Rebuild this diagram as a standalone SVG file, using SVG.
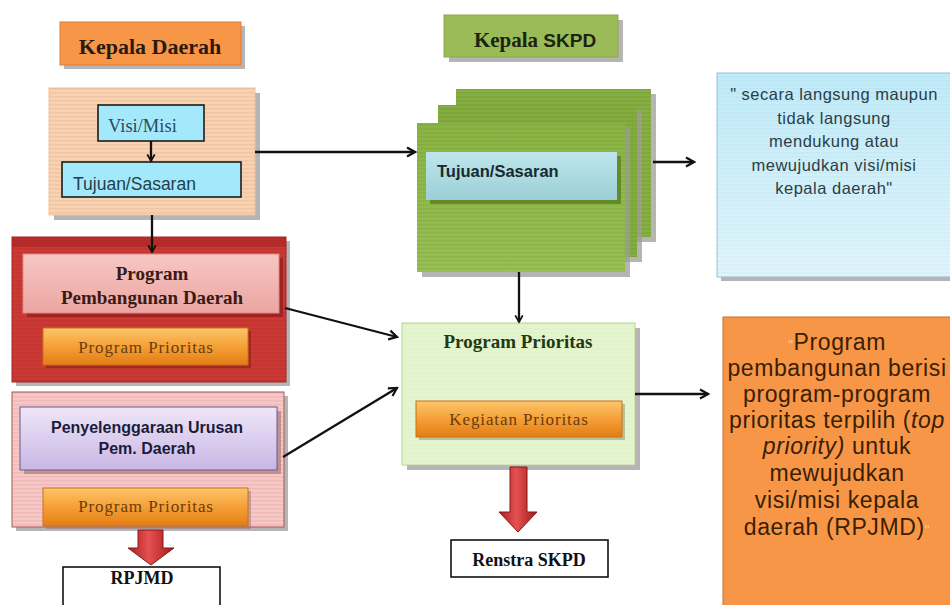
<svg xmlns="http://www.w3.org/2000/svg" width="950" height="605" viewBox="0 0 950 605">
<style>
.serif{font-family:"Liberation Serif","Times New Roman",serif}
.sans{font-family:"Liberation Sans",Arial,sans-serif}
.b{font-weight:bold}
.c{text-anchor:middle}
.shadow{fill:#9c9c9c;opacity:0.75}
.conn{stroke:#111;stroke-width:2.3;fill:none}
.btn{fill:url(#gOrange);stroke:#c8731a;stroke-width:1}
.btntext{font-size:17px;fill:#6b3c0c;letter-spacing:0.9px}
.outline{fill:#fff;stroke:#111;stroke-width:1.6}
</style>
<defs>
<pattern id="stripes" width="6" height="4" patternUnits="userSpaceOnUse">
<rect x="0" y="0" width="6" height="1.5" fill="#000" opacity="0.05"/>
</pattern>
<pattern id="stripesL" width="6" height="4" patternUnits="userSpaceOnUse">
<rect x="0" y="0" width="6" height="1.5" fill="#fff" opacity="0.25"/>
</pattern>
<linearGradient id="gOrange" x1="0" y1="0" x2="0" y2="1">
<stop offset="0" stop-color="#fcc56a"/>
<stop offset="0.5" stop-color="#f5a037"/>
<stop offset="1" stop-color="#e27d14"/>
</linearGradient>
<linearGradient id="gPinkIn" x1="0" y1="0" x2="0" y2="1">
<stop offset="0" stop-color="#f7c8c4"/>
<stop offset="1" stop-color="#eba5a1"/>
</linearGradient>
<linearGradient id="gPurple" x1="0" y1="0" x2="0" y2="1">
<stop offset="0" stop-color="#eee6f8"/>
<stop offset="1" stop-color="#c9b6e4"/>
</linearGradient>
<linearGradient id="gRedArrow" x1="0" y1="0" x2="1" y2="0">
<stop offset="0" stop-color="#a81f1f"/>
<stop offset="0.45" stop-color="#e65050"/>
<stop offset="1" stop-color="#a01a1a"/>
</linearGradient>
<linearGradient id="gTeal" x1="0" y1="0" x2="0" y2="1">
<stop offset="0" stop-color="#bde6ec"/>
<stop offset="1" stop-color="#9ccfd6"/>
</linearGradient>
<linearGradient id="gCyan" x1="0" y1="0" x2="0" y2="1">
<stop offset="0" stop-color="#bfebf9"/>
<stop offset="1" stop-color="#e0f5fc"/>
</linearGradient>
<linearGradient id="gGreen" x1="0" y1="0" x2="0" y2="1">
<stop offset="0" stop-color="#89b443"/>
<stop offset="1" stop-color="#96c052"/>
</linearGradient>
<marker id="chev" viewBox="0 0 12 12" refX="10" refY="6" markerWidth="12" markerHeight="12" markerUnits="userSpaceOnUse" orient="auto">
<path d="M2,1.5 L10,6 L2,10.5" fill="none" stroke="#111" stroke-width="2.2"/>
</marker>
<marker id="chevS" viewBox="0 0 12 12" refX="10" refY="6" markerWidth="10" markerHeight="10" markerUnits="userSpaceOnUse" orient="auto">
<path d="M2,1.5 L10,6 L2,10.5" fill="none" stroke="#111" stroke-width="2.2"/>
</marker>
</defs>

<rect width="950" height="605" fill="#fff"/>

<g id="hdr-kepala-daerah">
<rect class="shadow" x="64" y="26" width="181" height="43"/>
<rect x="60" y="22" width="181" height="43" fill="#f79646" stroke="#e07c36"/>
<text class="serif b c" x="150" y="54" font-size="22" fill="#2a1a10">Kepala Daerah</text>
</g>

<g id="box-visi">
<rect class="shadow" x="54" y="93" width="206" height="127"/>
<rect x="49" y="88" width="206" height="127" fill="#fad2b0" stroke="#f0c49c"/>
<rect x="49" y="88" width="206" height="127" fill="url(#stripes)"/>
<rect x="98" y="105" width="106" height="36" fill="#a3e9fb" stroke="#111" stroke-width="1.5"/>
<text class="serif" x="108" y="132" font-size="18.5" fill="#2b4a5a">Visi/Misi</text>
<rect x="62" y="162" width="179" height="35" fill="#a3e9fb" stroke="#111" stroke-width="1.5"/>
<text class="sans" x="73" y="190" font-size="17.5" fill="#1f3f4c">Tujuan/Sasaran</text>
</g>

<g id="box-program-pembangunan">
<rect class="shadow" x="16" y="241" width="274" height="145"/>
<rect x="12" y="237" width="274" height="145" fill="#cc3834" stroke="#a82626"/>
<rect x="12" y="237" width="274" height="145" fill="url(#stripes)"/>
<rect x="12" y="237" width="274" height="10" fill="#a82424" opacity="0.6"/>
<rect x="27" y="258" width="256" height="59" fill="#8f1d1d" opacity="0.7"/>
<rect x="23" y="254" width="256" height="59" fill="url(#gPinkIn)" stroke="#d98a86"/>
<text class="serif b c" x="152" y="280" font-size="19" fill="#3a1a14">Program</text>
<text class="serif b c" x="152" y="304" font-size="19" fill="#3a1a14">Pembangunan Daerah</text>
<rect x="46" y="331" width="205" height="37" fill="#8f1d1d" opacity="0.6"/>
<rect class="btn" x="43" y="328" width="205" height="37"/>
<text class="serif c btntext" x="146" y="353">Program Prioritas</text>
</g>

<g id="box-urusan">
<rect class="shadow" x="16" y="396" width="272" height="135"/>
<rect x="12" y="392" width="272" height="135" fill="#f8c6c4" stroke="#a85a58"/>
<rect x="12" y="392" width="272" height="135" fill="url(#stripes)"/>
<rect x="24" y="411" width="257" height="63" fill="#a07070" opacity="0.6"/>
<rect x="20" y="407" width="257" height="63" fill="url(#gPurple)" stroke="#6a5a8a"/>
<text class="sans b c" x="147" y="433" font-size="16" fill="#1c1c3a">Penyelenggaraan Urusan</text>
<text class="sans b c" x="147" y="454" font-size="16" fill="#1c1c3a">Pem. Daerah</text>
<rect x="46" y="491" width="205" height="38" fill="#a07070" opacity="0.5"/>
<rect class="btn" x="43" y="488" width="205" height="38"/>
<text class="serif c btntext" x="146" y="512">Program Prioritas</text>
</g>

<g id="box-rpjmd">
<rect class="outline" x="63" y="567" width="157" height="45"/>
<text class="serif b c" x="142" y="584" font-size="18" fill="#111">RPJMD</text>
</g>

<g id="hdr-kepala-skpd">
<rect class="shadow" x="449" y="20" width="174" height="42"/>
<rect x="444" y="15" width="174" height="42" fill="#9bbb59" stroke="#8aaa4c"/>
<text class="c" x="535" y="47" font-size="21" fill="#1a2410" font-weight="bold"><tspan class="serif">Kepala </tspan><tspan class="sans" font-size="19">SKPD</tspan></text>
</g>

<g id="box-tujuan-skpd">
<rect class="shadow" x="461" y="94" width="195" height="148"/>
<rect x="456" y="89" width="195" height="148" fill="#86ae40"/>
<rect x="456" y="89" width="195" height="148" fill="url(#stripes)"/>
<rect class="shadow" x="443" y="110" width="199" height="152"/>
<rect x="438" y="105" width="199" height="152" fill="#84ac3e"/>
<rect x="438" y="105" width="199" height="152" fill="url(#stripes)"/>
<rect class="shadow" x="422" y="128" width="208" height="149"/>
<rect x="417" y="123" width="208" height="149" fill="url(#gGreen)"/>
<rect x="417" y="123" width="208" height="149" fill="url(#stripes)"/>
<rect x="430" y="156" width="191" height="48" fill="#5c7f22" opacity="0.8"/>
<rect x="426" y="152" width="191" height="48" fill="url(#gTeal)"/>
<text class="sans b" x="437" y="177" font-size="16.5" fill="#182a30">Tujuan/Sasaran</text>
</g>

<g id="box-program-prioritas">
<rect class="shadow" x="407" y="328" width="233" height="142"/>
<rect x="402" y="323" width="233" height="142" fill="#e3f6c9" stroke="#b2d48a"/>
<rect x="402" y="323" width="233" height="142" fill="url(#stripesL)"/>
<rect x="402" y="323" width="233" height="142" fill="url(#stripes)" opacity="0.6"/>
<text class="serif b c" x="518" y="348" font-size="19" fill="#1f3a12">Program Prioritas</text>
<rect x="419" y="404" width="206" height="36" fill="#889068" opacity="0.5"/>
<rect class="btn" x="416" y="401" width="206" height="36"/>
<text class="serif c btntext" x="519" y="425">Kegiatan Prioritas</text>
</g>

<g id="box-renstra">
<rect class="outline" x="451" y="540" width="157" height="37"/>
<text class="serif b c" x="529" y="566" font-size="18" fill="#111">Renstra SKPD</text>
</g>

<g id="note-cyan">
<rect class="shadow" x="721" y="77" width="235" height="204"/>
<rect x="717" y="73" width="235" height="204" fill="url(#gCyan)" stroke="#96c4d4"/>
<rect x="717" y="73" width="235" height="204" fill="url(#stripes)" opacity="0.5"/>
<g class="sans c" font-size="16.5" fill="#2c3d46" letter-spacing="0.5">
<text x="834" y="100">" secara langsung maupun</text>
<text x="834" y="124">tidak langsung</text>
<text x="834" y="147">mendukung atau</text>
<text x="834" y="171">mewujudkan visi/misi</text>
<text x="834" y="194">kepala daerah"</text>
</g>
</g>

<g id="note-orange">
<rect x="723" y="317" width="235" height="292" fill="#f79646" stroke="#c8702e"/>
<g class="sans c" font-size="23" fill="#3a2005" letter-spacing="0.6">
<text x="837" y="350"><tspan fill="#fbc79a" font-size="14">"</tspan>Program</text>
<text x="837" y="376">pembangunan berisi</text>
<text x="837" y="402">program-program</text>
<text x="837" y="428">prioritas terpilih (<tspan font-style="italic">top</tspan></text>
<text x="837" y="454"><tspan font-style="italic">priority)</tspan> untuk</text>
<text x="837" y="481">mewujudkan</text>
<text x="837" y="508">visi/misi kepala</text>
<text x="837" y="535">daerah (RPJMD)<tspan fill="#fbc79a" font-size="14">"</tspan></text>
</g>
</g>

<g id="connectors">
<line class="conn" x1="151" y1="141" x2="151" y2="161" stroke-width="2" marker-end="url(#chevS)"/>
<line class="conn" x1="152" y1="215" x2="152" y2="252" marker-end="url(#chevS)"/>
<line class="conn" x1="255" y1="152" x2="415" y2="152" marker-end="url(#chev)"/>
<line class="conn" x1="653" y1="162" x2="694" y2="162" marker-end="url(#chev)"/>
<line class="conn" x1="519" y1="272" x2="519" y2="322" marker-end="url(#chevS)"/>
<line class="conn" x1="285" y1="308" x2="397" y2="337" marker-end="url(#chev)"/>
<line class="conn" x1="283" y1="457" x2="397" y2="388" marker-end="url(#chev)"/>
<line class="conn" x1="635" y1="394" x2="708" y2="394" marker-end="url(#chev)"/>
<path d="M138,530 H163 V548 H174 L151,565 L128,548 H138 Z" fill="url(#gRedArrow)" stroke="#8a1616" stroke-width="1"/>
<path d="M510,467 H527 V512 H537 L518,532 L499,512 H510 Z" fill="url(#gRedArrow)" stroke="#8a1616" stroke-width="1"/>
</g>
</svg>
